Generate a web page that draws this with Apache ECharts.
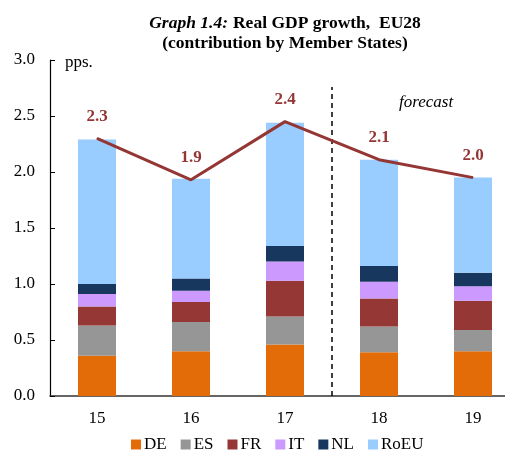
<!DOCTYPE html>
<html><head><meta charset="utf-8">
<script src="https://cdn.jsdelivr.net/npm/echarts@6/dist/echarts.min.js"></script>
<style>html,body{margin:0;padding:0;background:#fff}#c{width:505px;height:452px}</style>
</head><body><div id="c"></div>
<script>
var categories = ['15','16','17','18','19'];
var DE   = [0.36, 0.40, 0.46, 0.39, 0.40];
var ES   = [0.27, 0.26, 0.25, 0.23, 0.19];
var FR   = [0.17, 0.18, 0.32, 0.25, 0.26];
var IT   = [0.11, 0.10, 0.17, 0.15, 0.13];
var NL   = [0.09, 0.11, 0.14, 0.14, 0.12];
var RoEU = [1.29, 0.89, 1.10, 0.95, 0.85];
var total = [2.30, 1.93, 2.45, 2.11, 1.95];
var totalLabels = ['2.3','1.9','2.4','2.1','2.0'];
var yTicks = [0, 0.5, 1.0, 1.5, 2.0, 2.5, 3.0];
var forecastStart = 3;   // boundary between 17 and 18
var forecastLineTop = 2.76;

var serif = '"Liberation Serif","Times New Roman",serif';
var names = ['DE','ES','FR','IT','NL','RoEU'];
var colors = ['#E36C09','#969696','#953735','#CC99FF','#17375E','#99CCFF'];
var datas = [DE, ES, FR, IT, NL, RoEU];

var series = names.map(function(n,i){
  return {name:n, type:'bar', stack:'s', data:datas[i], barWidth:38,
    itemStyle:{color:colors[i]}, emphasis:{disabled:true}};
});
series.push({
  name:'total', type:'line', data:total, symbol:'circle', symbolSize:1, showSymbol:true,
  lineStyle:{color:'#943634', width:3}, itemStyle:{color:'#943634'},
  label:{show:true, position:'top', distance:13,
    formatter:function(p){return totalLabels[p.dataIndex];},
    color:'#943634', fontFamily:serif, fontWeight:'bold', fontSize:17},
  z:5
});
series.push({
  name:'forecastLine', type:'line', xAxisIndex:1, data:[], symbol:'none',
  markLine:{silent:true, symbol:'none', label:{show:false},
    lineStyle:{color:'#000', type:[5,4], width:1.5},
    data:[[{coord:[forecastStart,0]},{coord:[forecastStart,forecastLineTop]}]]}
});

var chart = echarts.init(document.getElementById('c'), null, {renderer:'canvas'});
chart.setOption({
  animation:false,
  title:{
    text:'{i|Graph 1.4:} {b|Real GDP growth,  EU28}\n{b|(contribution by Member States)}',
    left:280, top:8, textAlign:'center',
    textStyle:{rich:{
      i:{fontFamily:serif, fontStyle:'italic', fontSize:17.5, color:'#000', lineHeight:20},
      b:{fontFamily:serif, fontWeight:'bold', fontSize:17.5, color:'#000', lineHeight:20}
    }}
  },
  legend:{
    data:names, top:436, left:131, itemWidth:10, itemHeight:10, itemGap:14,
    icon:'rect', textStyle:{fontFamily:serif, fontSize:17, color:'#000', padding:[0,0,0,-2]},
    selectedMode:false, padding:0
  },
  grid:{left:50, top:60, width:470, height:336, outerBoundsMode:'none', containLabel:false},
  xAxis:[{
    type:'category', data:categories,
    axisLine:{lineStyle:{color:'#333', width:1.5}},
    axisTick:{inside:true, length:5, lineStyle:{color:'#333'}},
    axisLabel:{fontFamily:serif, fontSize:17, color:'#000', margin:14}
  },{
    type:'value', min:0, max:5, show:false
  }],
  yAxis:{
    type:'value', min:0, max:3, interval:0.5,
    axisLine:{show:true, lineStyle:{color:'#000', width:1.2}},
    axisTick:{show:true, inside:true, length:5, lineStyle:{color:'#000'}},
    splitLine:{show:false},
    axisLabel:{fontFamily:serif, fontSize:17, color:'#000', margin:15,
      formatter:function(v){return v.toFixed(1);}},
    name:'pps.', nameLocation:'end', nameGap:-3,
    nameTextStyle:{fontFamily:serif, fontSize:17, color:'#000', align:'left', padding:[0,0,0,15], verticalAlign:'middle'}
  },
  graphic:[{
    type:'text', left:399, top:94,
    style:{text:'forecast', font:'italic 17px "Liberation Serif", serif', fill:'#000'}
  }],
  series:series
});
</script></body></html>
